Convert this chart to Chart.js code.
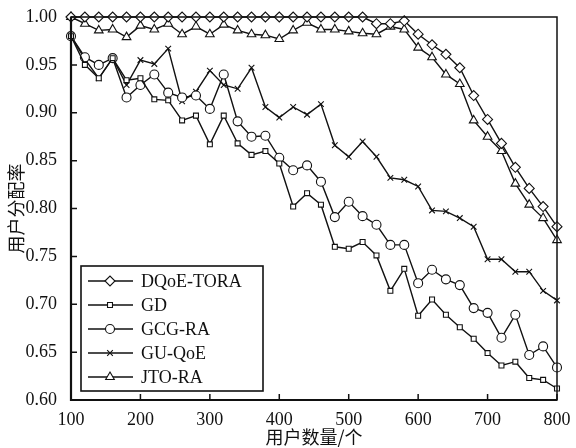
<!DOCTYPE html>
<html>
<head>
<meta charset="utf-8">
<script src="https://cdn.jsdelivr.net/npm/chart.js@4/dist/chart.umd.min.js"></script>
<style>
    html, body { margin: 0; padding: 0; background: #fff; }
    #wrap { width: 576px; height: 448px; }
</style>
</head>
<body>
<div id="wrap"><canvas id="rateChart" width="576" height="448"></canvas></div>
<script>
// number of users (x axis)
const users = [100, 120, 140, 160, 180, 200, 220, 240, 260, 280, 300, 320, 340, 360, 380, 400, 420, 440,
    460, 480, 500, 520, 540, 560, 580, 600, 620, 640, 660, 680, 700, 720, 740, 760, 780, 800];

// allocation rate per algorithm
const dqoeTora = [1.00, 1.00, 1.00, 1.00, 1.00, 1.00, 1.00, 1.00, 1.00, 1.00, 1.00, 1.00, 1.00, 1.00, 1.00, 1.00, 1.00, 1.00,
    1.00, 1.00, 1.00, 1.00, 0.993, 0.993, 0.996, 0.982, 0.971, 0.961, 0.947, 0.918, 0.893, 0.868, 0.843, 0.821, 0.802, 0.781];
const gd = [0.980, 0.950, 0.936, 0.957, 0.934, 0.936, 0.914, 0.913, 0.892, 0.897, 0.867, 0.897, 0.868, 0.856, 0.860, 0.847, 0.802, 0.816,
    0.804, 0.760, 0.758, 0.765, 0.751, 0.714, 0.737, 0.688, 0.705, 0.689, 0.676, 0.664, 0.649, 0.636, 0.640, 0.623, 0.621, 0.612];
const gcgRa = [0.980, 0.958, 0.950, 0.957, 0.916, 0.929, 0.940, 0.921, 0.916, 0.918, 0.904, 0.940, 0.891, 0.875, 0.876, 0.853, 0.840, 0.845,
    0.828, 0.791, 0.807, 0.792, 0.783, 0.762, 0.762, 0.722, 0.736, 0.726, 0.720, 0.696, 0.691, 0.665, 0.689, 0.647, 0.656, 0.634];
const guQoe = [0.980, 0.956, 0.936, 0.957, 0.929, 0.955, 0.951, 0.967, 0.912, 0.922, 0.944, 0.929, 0.925, 0.947, 0.906, 0.895, 0.906, 0.898,
    0.909, 0.866, 0.854, 0.870, 0.854, 0.832, 0.830, 0.823, 0.798, 0.797, 0.790, 0.781, 0.747, 0.747, 0.734, 0.734, 0.714, 0.704];
const jtoRa = [1.00, 0.993, 0.986, 0.987, 0.979, 0.991, 0.987, 0.993, 0.982, 0.990, 0.982, 0.992, 0.986, 0.982, 0.981, 0.977, 0.986, 0.994,
    0.987, 0.987, 0.985, 0.983, 0.982, 0.990, 0.987, 0.968, 0.958, 0.940, 0.930, 0.892, 0.875, 0.860, 0.826, 0.804, 0.790, 0.767];

const xTicks = [100, 200, 300, 400, 500, 600, 700, 800];
const yTicks = [0.60, 0.65, 0.70, 0.75, 0.80, 0.85, 0.90, 0.95, 1.00];

const seriesNames = ["DQoE-TORA", "GD", "GCG-RA", "GU-QoE", "JTO-RA"];
const seriesValues = [dqoeTora, gd, gcgRa, guQoe, jtoRa];
const seriesMarkers = ["rectRot", "rect", "circle", "crossRot", "triangle"];
const markerSizes = [5, 3.5, 4.5, 4, 5];

const serif = "'Liberation Serif', 'DejaVu Serif', serif";
const cjk = "'Noto Sans CJK SC', sans-serif";

function makeDataset(i) {
    return {
        label: seriesNames[i],
        data: users.map((u, k) => ({ x: u, y: seriesValues[i][k] })),
        borderColor: "#111",
        borderWidth: 1.4,
        backgroundColor: "#fff",
        pointStyle: seriesMarkers[i],
        pointRadius: markerSizes[i],
        pointBorderWidth: 1.1,
        pointBackgroundColor: "#fff",
        pointBorderColor: "#111",
        tension: 0,
        clip: false,
    };
}

// frame, inward ticks and boxed legend
const framePlugin = {
    id: "frame",
    afterDatasetsDraw(chart) {
        const { ctx, chartArea: a, scales } = chart;
        ctx.save();
        ctx.strokeStyle = "#111";
        ctx.lineWidth = 1.5;
        ctx.strokeRect(a.left, a.top, a.right - a.left, a.bottom - a.top);
        ctx.lineWidth = 2.2;
        ctx.beginPath();
        ctx.moveTo(a.left, a.top);
        ctx.lineTo(a.left, a.bottom);
        ctx.lineTo(a.right, a.bottom);
        ctx.stroke();
        ctx.lineWidth = 1.5;
        ctx.beginPath();
        for (const v of xTicks) {
            const px = scales.x.getPixelForValue(v);
            ctx.moveTo(px, a.bottom);
            ctx.lineTo(px, a.bottom - 6);
        }
        for (const v of yTicks) {
            const py = scales.y.getPixelForValue(v);
            ctx.moveTo(a.left, py);
            ctx.lineTo(a.left + 6, py);
        }
        ctx.stroke();

        // legend
        const box = { x: 81, y: 266, w: 182, h: 125 };
        ctx.fillStyle = "#fff";
        ctx.fillRect(box.x, box.y, box.w, box.h);
        ctx.lineWidth = 1.6;
        ctx.strokeRect(box.x, box.y, box.w, box.h);
        ctx.font = "18px " + serif;
        ctx.textBaseline = "middle";
        seriesNames.forEach((name, i) => {
            const cy = box.y + 15 + i * 24;
            ctx.strokeStyle = "#111";
            ctx.lineWidth = 1.3;
            ctx.beginPath();
            ctx.moveTo(box.x + 7, cy);
            ctx.lineTo(box.x + 52, cy);
            ctx.stroke();
            ctx.fillStyle = "#fff";
            ctx.lineWidth = 1.1;
            Chart.helpers.drawPoint(ctx, {
                pointStyle: seriesMarkers[i],
                radius: markerSizes[i],
                rotation: 0,
                borderWidth: 1.1,
            }, box.x + 29, cy);
            ctx.fillStyle = "#111";
            ctx.fillText(name, box.x + 60, cy + 1);
        });
        ctx.restore();
    },
};

const config = {
    type: "line",
    data: { datasets: seriesValues.map((_, i) => makeDataset(i)) },
    options: {
        responsive: false,
        animation: false,
        layout: { padding: { left: 5, top: 17, right: 19, bottom: 0 } },
        plugins: {
            legend: { display: false },
            tooltip: { enabled: false },
        },
        scales: {
            x: {
                type: "linear",
                min: 100,
                max: 800,
                afterBuildTicks(scale) {
                    scale.ticks = xTicks.map((v) => ({ value: v }));
                },
                afterFit(scale) { scale.height = 48; },
                grid: { display: false },
                border: { display: false },
                ticks: {
                    color: "#111",
                    font: { family: serif, size: 18 },
                    padding: 1,
                    maxRotation: 0,
                },
                title: {
                    display: true,
                    text: "用户数量/个",
                    color: "#111",
                    font: { family: cjk, size: 18 },
                    padding: { top: -3, bottom: 0 },
                },
            },
            y: {
                min: 0.6,
                max: 1.0,
                afterBuildTicks(scale) {
                    scale.ticks = yTicks.map((v) => ({ value: v }));
                },
                afterFit(scale) { scale.width = 66; },
                grid: { display: false },
                border: { display: false },
                ticks: {
                    color: "#111",
                    font: { family: serif, size: 18 },
                    padding: 6,
                    callback: (v) => Number(v).toFixed(2),
                },
                title: {
                    display: true,
                    text: "用户分配率",
                    color: "#111",
                    font: { family: cjk, size: 18 },
                    padding: { top: 0, bottom: 0 },
                },
            },
        },
    },
    plugins: [framePlugin],
};

new Chart(document.getElementById("rateChart").getContext("2d"), config);
</script>
</body>
</html>
